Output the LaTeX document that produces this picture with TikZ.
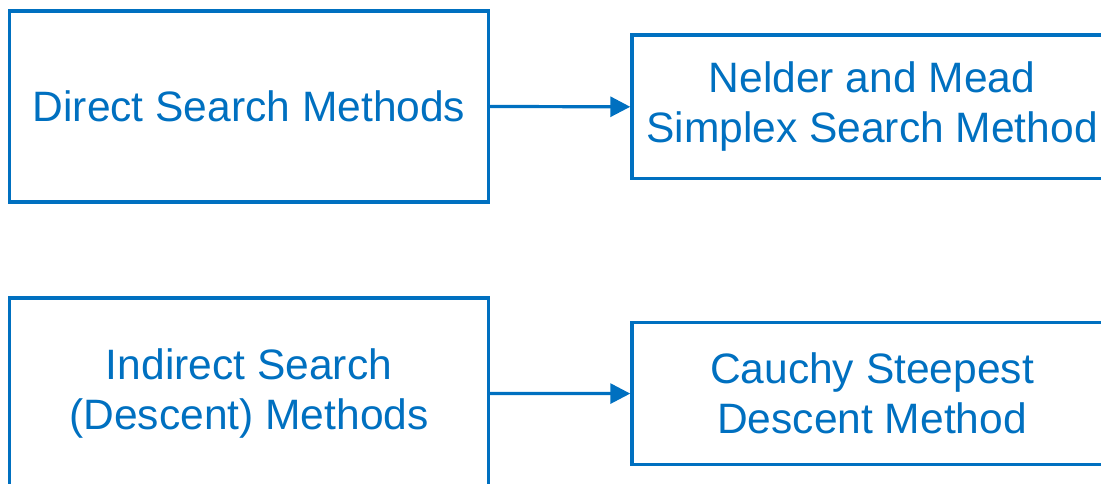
\documentclass[tikz,border=0pt]{standalone}
\usepackage{fontspec}
\setmainfont{Liberation Sans}
\usetikzlibrary{arrows.meta}
\definecolor{officeblue}{HTML}{0070C0}
\begin{document}
\begin{tikzpicture}[x=0.75pt,y=-0.75pt,
  methodbox/.style={draw=officeblue, line width=2.6pt, text=officeblue,
    align=center, inner sep=0pt,
    font=\fontsize{31.9pt}{37.5pt}\selectfont},
  link/.style={draw=officeblue, line width=2.4pt,
    -{Triangle[length=15pt,width=15pt]}}]
  \useasboundingbox (0,0) rectangle (1101,484);
  \clip (0,0) rectangle (1101,484);

  % method families
  \node[methodbox, minimum width=359pt, minimum height=143.25pt]
    (direct) at (249,106.5) {Direct Search Methods};
  \node[methodbox, minimum width=359pt, minimum height=143.25pt]
    (indirect) at (249,393.5) {Indirect Search\\(Descent) Methods};

  % representative algorithms
  \node[methodbox, minimum width=360pt, minimum height=107.6pt]
    (nelder) at (872,106.8) {Nelder and Mead\\Simplex Search Method};
  \node[methodbox, minimum width=360pt, minimum height=106.6pt]
    (cauchy) at (872,393.6) {Cauchy Steepest\\Descent Method};

  \draw[link] (direct.east) -- (nelder.west);
  \draw[link] (indirect.east) -- (cauchy.west);
\end{tikzpicture}
\end{document}
